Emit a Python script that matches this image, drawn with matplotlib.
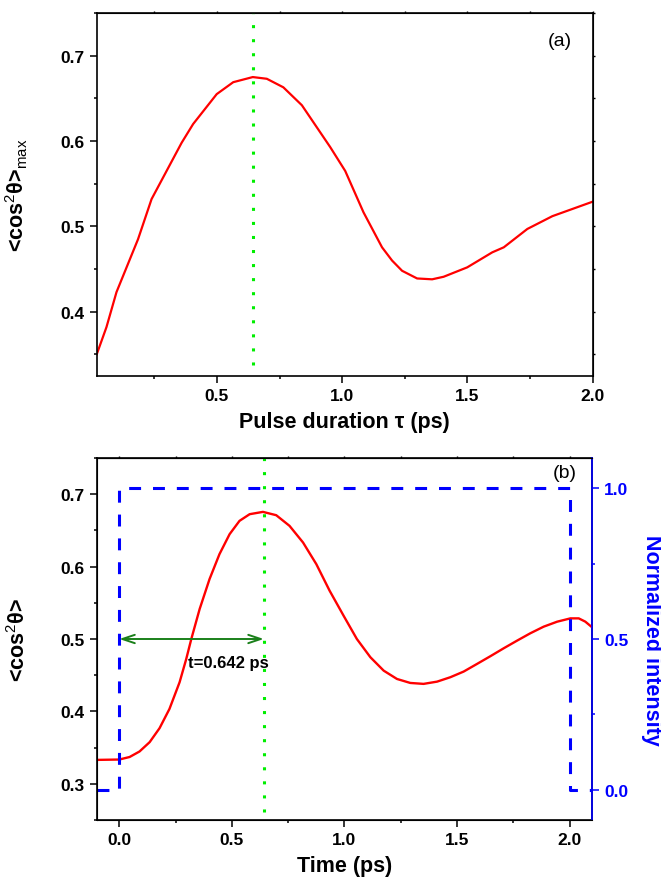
import matplotlib
matplotlib.use("Agg")
import matplotlib.pyplot as plt
from matplotlib.ticker import MultipleLocator

plt.rcParams["font.family"] = ["Liberation Sans", "DejaVu Sans"]
plt.rcParams["mathtext.fontset"] = "custom"
plt.rcParams["mathtext.rm"] = "Liberation Sans"
plt.rcParams["mathtext.it"] = "Liberation Sans"
plt.rcParams["mathtext.bf"] = "Liberation Sans:bold"
plt.rcParams["mathtext.default"] = "rm"

# (a) peak alignment versus pulse duration
tau = [0.02, 0.059, 0.099, 0.185, 0.239, 0.359, 0.405, 0.499, 0.565, 0.643,
       0.699, 0.765, 0.839, 0.952, 1.012, 1.085, 1.159, 1.199, 1.239, 1.299,
       1.359, 1.405, 1.499, 1.599, 1.645, 1.739, 1.839, 2.0]
cos2_max = [0.350, 0.382, 0.423, 0.485, 0.532, 0.598, 0.620, 0.655, 0.669, 0.675,
            0.673, 0.663, 0.642, 0.593, 0.565, 0.5165, 0.4755, 0.460, 0.448, 0.439,
            0.438, 0.441, 0.452, 0.4696, 0.4755, 0.497, 0.512, 0.529]

# (b) time evolution for the optimal pulse
t = [-0.1, 0.0, 0.046, 0.090, 0.135, 0.179, 0.223, 0.268, 0.2975, 0.320,
     0.357, 0.401, 0.445, 0.490, 0.534, 0.579, 0.638, 0.697, 0.756, 0.816,
     0.875, 0.934, 0.996, 1.055, 1.115, 1.174, 1.233, 1.292, 1.351, 1.411,
     1.470, 1.529, 1.588, 1.647, 1.707, 1.766, 1.825, 1.884, 1.944, 2.003,
     2.040, 2.069, 2.1]
cos2_t = [0.333, 0.3335, 0.337, 0.3446, 0.3575, 0.3768, 0.4034, 0.4403, 0.4724, 0.500,
          0.5414, 0.5828, 0.6172, 0.6448, 0.6632, 0.6724, 0.6756, 0.671, 0.6563, 0.6333,
          0.6034, 0.5667, 0.5322, 0.500, 0.4748, 0.4563, 0.4448, 0.4393, 0.438, 0.4411,
          0.4472, 0.455, 0.4655, 0.4761, 0.4872, 0.4977, 0.5079, 0.517, 0.5239, 0.5285,
          0.5285, 0.524, 0.516]

# square pulse envelope
pulse_t = [-0.1, 0.0, 0.0, 2.0, 2.0, 2.1]
pulse_i = [0.0, 0.0, 1.0, 1.0, 0.0, 0.0]

tau_opt = 0.642
vline_a = [0.337, 0.75]
vline_b = [0.261, 0.75]
arrow_y = 0.5

RED = "#ff0000"
LIME = "#00ee00"
BLUE = "#0000ff"
DKGREEN = "#1a801a"
TICK_FS = 12.5

fig = plt.figure(figsize=(6.61, 8.79), dpi=100)
ax1 = fig.add_axes([0.1463, 0.5714, 0.7504, 0.4126])
ax2 = fig.add_axes([0.1463, 0.0660, 0.7497, 0.4118])


def style_axis(ax, right=True):
    for s in ax.spines.values():
        s.set_linewidth(1.2)
    ax.xaxis.set_major_locator(MultipleLocator(0.5))
    ax.xaxis.set_minor_locator(MultipleLocator(0.25))
    ax.yaxis.set_major_locator(MultipleLocator(0.1))
    ax.yaxis.set_minor_locator(MultipleLocator(0.05))
    ax.tick_params(which="both", direction="out", width=1.1, labelsize=TICK_FS)
    ax.tick_params(which="major", length=5)
    ax.tick_params(which="minor", length=2.5)
    for lab in ax.get_xticklabels() + ax.get_yticklabels():
        lab.set_fontweight("bold")
    # tiny mirrored ticks on the top (and right) frame
    top = ax.secondary_xaxis("top")
    top.xaxis.set_major_locator(MultipleLocator(0.25))
    top.tick_params(length=1.5, width=1.0, labeltop=False)
    if right:
        rgt = ax.secondary_yaxis("right")
        rgt.yaxis.set_major_locator(MultipleLocator(0.05))
        rgt.tick_params(length=1.5, width=1.0, labelright=False)


# ---- panel (a)
ax1.plot(tau, cos2_max, color=RED, lw=1.6)
ax1.plot([tau_opt, tau_opt], vline_a, color=LIME, lw=2.2, dashes=(1, 3.6))
ax1.set_xlim(0.02, 2.0)
ax1.set_ylim(0.325, 0.75)
style_axis(ax1)
ax1.set_xlabel("Pulse duration τ (ps)", fontsize=15.5, fontweight="bold", labelpad=6)
ax1.set_ylabel("<cos$^{2}$θ>$_{max}$", fontsize=15.5, fontweight="bold")
ax1.yaxis.set_label_coords(-0.135, 0.5)
ax1.text(0.934, 0.923, "(a)", transform=ax1.transAxes, fontsize=14,
         ha="center", va="center")

# ---- panel (b)
ax2.plot(t, cos2_t, color=RED, lw=1.7, zorder=3)
ax2.plot([tau_opt, tau_opt], vline_b, color=LIME, lw=2.2, dashes=(1, 3.6), zorder=4)
ax2.annotate("", xy=(tau_opt, arrow_y), xytext=(0.0, arrow_y),
             arrowprops=dict(arrowstyle="<->,head_length=0.9,head_width=0.3",
                             color=DKGREEN, lw=1.4, shrinkA=0, shrinkB=0))
ax2.text(0.306, 0.468, "t=%.3f ps" % tau_opt, fontsize=12, fontweight="bold",
         ha="left", va="center")
ax2.set_xlim(-0.1, 2.1)
ax2.set_ylim(0.25, 0.75)
style_axis(ax2, right=False)
ax2.set_xlabel("Time (ps)", fontsize=15.5, fontweight="bold", labelpad=6)
ax2.set_ylabel("<cos$^{2}$θ>", fontsize=15.5, fontweight="bold")
ax2.yaxis.set_label_coords(-0.135, 0.5)
ax2.text(0.945, 0.961, "(b)", transform=ax2.transAxes, fontsize=14,
         ha="center", va="center")

ax3 = ax2.twinx()
ax3.plot(pulse_t, pulse_i, color=BLUE, lw=2.2, dashes=(3.9, 3.9))
ax3.set_ylim(-0.1, 1.1)
ax3.yaxis.set_major_locator(MultipleLocator(0.5))
ax3.yaxis.set_minor_locator(MultipleLocator(0.25))
ax3.spines["right"].set_color(BLUE)
ax3.spines["right"].set_linewidth(1.2)
ax3.tick_params(axis="y", which="both", direction="out", colors=BLUE, width=1.1,
                labelsize=TICK_FS)
ax3.tick_params(axis="y", which="major", length=5)
ax3.tick_params(axis="y", which="minor", length=2.5)
for lab in ax3.get_yticklabels():
    lab.set_fontweight("bold")
ax3.set_ylabel("Normalized intensity", fontsize=15.5, fontweight="bold",
               color=BLUE, rotation=270, va="center")
ax3.yaxis.set_label_coords(1.12, 0.5)

fig.savefig("out.png", dpi=100, facecolor="white")
